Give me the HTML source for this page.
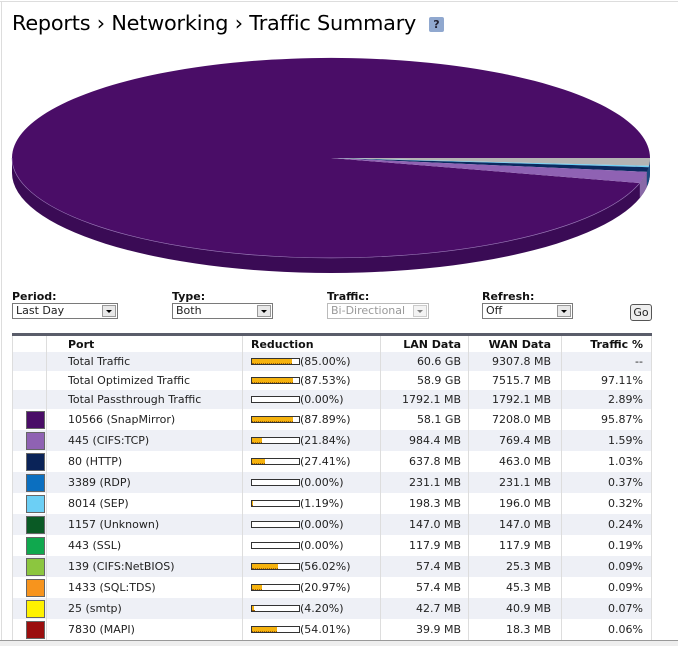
<!DOCTYPE html>
<html><head><meta charset="utf-8">
<style>
*{margin:0;padding:0;box-sizing:border-box}
body{width:678px;height:646px;background:#fff;position:relative;overflow:hidden;font-family:"DejaVu Sans","Liberation Sans",sans-serif;font-size:11px;color:#222}
.a{position:absolute}
.lbl{position:absolute;font-weight:bold;font-size:11px;color:#111;top:290px}
.sel{position:absolute;top:303px;height:16px;border:1px solid #7a7a7a;background:#fff;font-size:11px;line-height:14px;padding-left:3px}
.sel i{position:absolute;right:1px;top:1px;width:14px;height:12px;background:#e8e8e8;border:1px solid #999}
.sel i:after{content:"";position:absolute;left:3px;top:4px;border-left:3px solid transparent;border-right:3px solid transparent;border-top:3px solid #000}
.row{position:absolute;left:12px;width:639px}
.c{position:absolute;top:0;height:100%;display:flex;align-items:center;white-space:nowrap}
.r{justify-content:flex-end}
.sw{position:absolute;left:14px;width:19px;height:18px;border:1px solid #666}
.bar{position:absolute;left:239px;width:49px;height:7px;border:1px solid #333;background:#fff}
.bar b{position:absolute;left:0;top:0;height:100%;background:#f5b20e;border-bottom:1px dotted #a06000}
</style></head><body>
<div class="a" style="left:0;top:1px;width:678px;height:1px;background:#ddd"></div>
<div class="a" style="left:1px;top:1px;width:1px;height:640px;background:#ddd"></div>
<div class="a" style="left:12px;top:11px;font-size:20.8px;color:#000;font-family:'DejaVu Sans',sans-serif;letter-spacing:-0.2px">Reports › Networking › Traffic Summary</div>
<div class="a" style="left:429px;top:17px;width:15px;height:15px;background:#90a8cf;border-radius:2px;color:#223;font-size:11px;font-weight:bold;text-align:center;line-height:15px">?</div>
<svg class="a" style="left:0;top:0" width="678" height="290">
<path d="M650,158 A319,100 0 0 1 12,158 L12,173 A319,100 0 0 0 650,173 Z" fill="#3a0b55"/>
<path d="M646.9,171.9 A319,100 0 0 1 639.8,183 L639.8,198 A319,100 0 0 0 646.9,186.9 Z" fill="#8a6aa8"/>
<path d="M650,158 A319,100 0 0 1 646.9,171.9 L646.9,186.9 A319,100 0 0 0 650,173 Z" fill="#1a4a80"/>
<path d="M331,158 L639.8,183 A319,100 0 1 1 650,158 Z" fill="#4a0d67"/>
<path d="M331,158 L650,158 A319,100 0 0 1 649,165.8 Z" fill="#b4b4b4"/>
<path d="M331,158 L649,165.8 A319,100 0 0 1 648.6,167.2 Z" fill="#6ccff5"/>
<path d="M331,158 L648.6,167.2 A319,100 0 0 1 646.9,171.9 Z" fill="#0a2a60"/>
<path d="M331,158 L646.9,171.9 A319,100 0 0 1 639.8,183 Z" fill="#8f62b3"/>
<path d="M639.8,183 A319,100 0 0 1 12,158" fill="none" stroke="#9a7ab8" stroke-width="0.6"/>
</svg>
<div class="lbl" style="left:12px">Period:</div>
<div class="lbl" style="left:172px">Type:</div>
<div class="lbl" style="left:327px">Traffic:</div>
<div class="lbl" style="left:482px">Refresh:</div>
<div class="sel" style="left:12px;width:106px">Last Day<i></i></div>
<div class="sel" style="left:172px;width:101px">Both<i></i></div>
<div class="sel" style="left:327px;width:102px;color:#999;border-color:#bbb">Bi-Directional<i style="opacity:.5"></i></div>
<div class="sel" style="left:482px;width:91px">Off<i></i></div>
<div class="a" style="left:630px;top:304px;width:22px;height:17px;border:1px solid #555;border-radius:3px;background:#eee;font-size:11px;text-align:center;line-height:15px">Go</div>
<div class="a" style="left:12px;top:333px;width:640px;height:3px;background:#5a5d6a"></div>
<div id="t"></div>
<div class="a" style="left:12px;top:336px;width:1px;height:305px;background:#ddd"></div>
<div class="a" style="left:46px;top:336px;width:1px;height:305px;background:#ddd"></div>
<div class="a" style="left:242px;top:336px;width:1px;height:305px;background:#ddd"></div>
<div class="a" style="left:380px;top:336px;width:1px;height:305px;background:#ddd"></div>
<div class="a" style="left:468px;top:336px;width:1px;height:305px;background:#ddd"></div>
<div class="a" style="left:561px;top:336px;width:1px;height:305px;background:#ddd"></div>
<div class="a" style="left:651px;top:336px;width:1px;height:305px;background:#ddd"></div>
<div class="a" style="left:0;top:640px;width:678px;height:1px;background:#999"></div>
<div class="a" style="left:0;top:641px;width:678px;height:5px;background:#eee"></div>
<script>
var rows=[
["Total Traffic",85,"(85.00%)","60.6 GB","9307.8 MB","--",null],
["Total Optimized Traffic",87.5,"(87.53%)","58.9 GB","7515.7 MB","97.11%",null],
["Total Passthrough Traffic",0,"(0.00%)","1792.1 MB","1792.1 MB","2.89%",null],
["10566 (SnapMirror)",88,"(87.89%)","58.1 GB","7208.0 MB","95.87%","#4a0d67"],
["445 (CIFS:TCP)",22,"(21.84%)","984.4 MB","769.4 MB","1.59%","#8f62b3"],
["80 (HTTP)",27,"(27.41%)","637.8 MB","463.0 MB","1.03%","#0a2358"],
["3389 (RDP)",0,"(0.00%)","231.1 MB","231.1 MB","0.37%","#0b6fc0"],
["8014 (SEP)",1,"(1.19%)","198.3 MB","196.0 MB","0.32%","#6ccff5"],
["1157 (Unknown)",0,"(0.00%)","147.0 MB","147.0 MB","0.24%","#0a5a25"],
["443 (SSL)",0,"(0.00%)","117.9 MB","117.9 MB","0.19%","#10a84e"],
["139 (CIFS:NetBIOS)",56,"(56.02%)","57.4 MB","25.3 MB","0.09%","#8cc63f"],
["1433 (SQL:TDS)",21,"(20.97%)","57.4 MB","45.3 MB","0.09%","#f7941d"],
["25 (smtp)",4,"(4.20%)","42.7 MB","40.9 MB","0.07%","#fff200"],
["7830 (MAPI)",54,"(54.01%)","39.9 MB","18.3 MB","0.06%","#9b0e0e"]];
var h='<div class="row" style="top:336px;height:16px;font-weight:bold;color:#111"><div class="c" style="left:56px">Port</div><div class="c" style="left:239px">Reduction</div><div class="c r" style="right:190px">LAN Data</div><div class="c r" style="right:100px">WAN Data</div><div class="c r" style="right:8px">Traffic %</div></div>';
var y=352;
rows.forEach(function(r,i){
 var ht=i<3?19:21;
 h+='<div class="row" style="top:'+y+'px;height:'+ht+'px;background:'+(i%2==0?'#eef0f6':'#fff')+'">';
 if(r[6])h+='<div class="sw" style="top:'+((ht-18)/2)+'px;background:'+r[6]+'"></div>';
 h+='<div class="c" style="left:56px">'+r[0]+'</div>';
 h+='<div class="bar" style="top:'+(ht/2-4)+'px"><b style="width:'+r[1]+'%"></b></div>';
 h+='<div class="c" style="left:288px">'+r[2]+'</div>';
 h+='<div class="c r" style="right:190px">'+r[3]+'</div>';
 h+='<div class="c r" style="right:100px">'+r[4]+'</div>';
 h+='<div class="c r" style="right:8px">'+r[5]+'</div></div>';
 y+=ht;
});
document.getElementById('t').innerHTML=h;
</script>
</body></html>
